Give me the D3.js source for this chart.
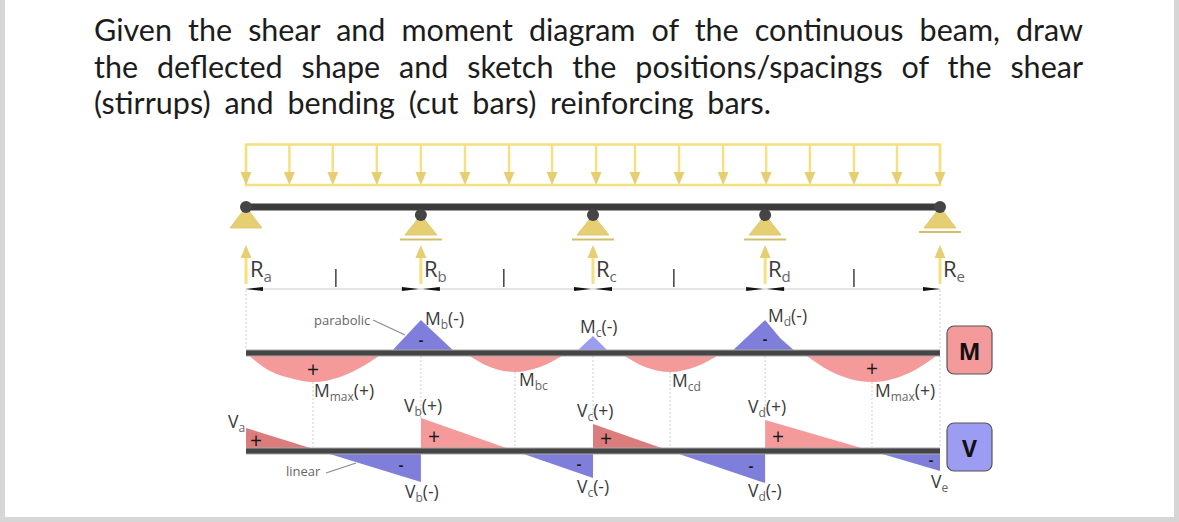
<!DOCTYPE html>
<html>
<head>
<meta charset="utf-8">
<script src="https://cdn.jsdelivr.net/npm/d3@7"></script>
<style>
    html, body { margin: 0; padding: 0; background: #d6d6d6; }
    svg { display: block; }
    text { font-family: "Open Sans", sans-serif; fill: #3a3a3a; }
</style>
</head>
<body>
<div class="chart"></div>
<script>
const titleLines = [
    "Given the shear and moment diagram of the continuous beam, draw",
    "the deflected shape and sketch the positions/spacings of the shear",
    "(stirrups) and bending (cut bars) reinforcing bars."
]

// beam stations
const supports = [0, 5.04, 10, 14.96, 20]
const supportNames = ["a", "b", "c", "d", "e"]
const midTicks = [2.59, 7.43, 12.33, 17.52]
const loadArrows = [0, 1.25, 2.5, 3.77, 5.04, 6.31, 7.58, 8.82, 10.09, 11.21, 12.48, 13.75, 14.99, 16.25, 17.52, 18.76, 20]

// bending moment, hogging lobes are positive here
const momentSag1 = [[0, 0], [0.69, -18], [1.27, -25], [1.93, -29], [2.71, -24], [3.43, -12], [3.95, 0]]
const momentHogB = [[4.15, 0], [4.58, 16], [5.04, 33], [5.5, 18], [6.05, 0]]
const momentSag2 = [[6.31, 0], [7.03, -14], [7.75, -19], [8.47, -14], [9.25, 0]]
const momentHogC = [[9.48, 0], [10, 17], [10.49, 0]]
const momentSag3 = [[10.78, 0], [11.5, -14], [12.22, -19], [12.94, -14], [13.72, 0]]
const momentHogD = [[13.95, 0], [14.47, 17], [14.96, 33], [15.39, 15], [15.88, 0]]
const momentSag4 = [[16.05, 0], [16.83, -18], [18.04, -29], [19.28, -17], [20, 0]]

// shear force, one start / zero / end row per span
const shearSpans = [
    [[0, 23], [2.13, 0], [5.04, -31]],
    [[5.04, 33], [7.75, 0], [10, -27]],
    [[10, 27], [12.22, 0], [14.96, -32]],
    [[14.96, 31], [18.04, 0], [20, -20]]
]

const width = 1179
const height = 522

const x = d3.scaleLinear().domain([0, 20]).range([246, 940])
const yM = d3.scaleLinear().domain([-29, 33]).range([382, 320])
const yV = d3.scaleLinear().domain([-32, 33]).range([483, 418])

const yellow = "#f4e07f"
const sand = "#e6cf72"
const dark = "#454545"
const pink = "#f59a9a"
const pinkDark = "#db7d7d"
const blue = "#7f7fdb"
const blueLight = "#9c9cf2"

const svg = d3.select(".chart").append("svg")
    .attr("width", width)
    .attr("height", height)

svg.append("rect")
    .attr("x", 5).attr("y", 0)
    .attr("width", 1169).attr("height", 517)
    .attr("fill", "#fff")

// title, the first two lines are justified
const title = svg.append("g")
titleLines.forEach((line, i) => {
    const t = title.append("text")
        .attr("x", 94)
        .attr("y", 41 + i * 36.5)
        .style("font-family", "Lato, sans-serif")
        .style("font-size", "30.5px")
        .style("fill", "#1c1c1c")
        .text(line)
    const target = i < 2 ? 989 : 677
    const gap = (target - t.node().getComputedTextLength()) / (line.split(" ").length - 1)
    t.style("word-spacing", gap + "px")
})

// uniform load
const load = svg.append("g")
load.append("path")
    .attr("d", `M${x(0)},185 V144.5 H${x(20)} V185 Z`)
    .attr("fill", "none")
    .attr("stroke", yellow)
    .attr("stroke-width", 2.4)
load.selectAll("line")
    .data(loadArrows)
    .enter().append("line")
    .attr("x1", d => x(d)).attr("x2", d => x(d))
    .attr("y1", 145).attr("y2", 174)
    .attr("stroke", yellow)
    .attr("stroke-width", 2.4)
load.selectAll("path.head")
    .data(loadArrows)
    .enter().append("path")
    .attr("class", "head")
    .attr("d", d => `M${x(d) - 5.5},172 H${x(d) + 5.5} L${x(d)},185 Z`)
    .attr("fill", sand)

// beam
svg.append("line")
    .attr("x1", x(0)).attr("x2", x(20))
    .attr("y1", 207).attr("y2", 207)
    .attr("stroke", "#3b3b3b")
    .attr("stroke-width", 7)

// supports
const supportGroup = svg.append("g").selectAll("g")
    .data(supports)
    .enter().append("g")
supportGroup.each(function(d, i) {
    const g = d3.select(this)
    const end = i === 0 || i === 4
    const cy = end ? 207 : 215
    const base = end ? 228 : 235
    const px = x(d)
    g.append("path")
        .attr("d", `M${px},${cy} L${px + 16},${base} H${px - 16} Z`)
        .attr("fill", sand)
        .attr("stroke", "#d8c26a")
        .attr("stroke-width", 0.8)
    if (i > 0) {
        const ly = end ? 232 : 239.5
        g.append("line")
            .attr("x1", px - 21).attr("x2", px + 21)
            .attr("y1", ly).attr("y2", ly)
            .attr("stroke", "#d3bd68")
            .attr("stroke-width", 2)
    }
    g.append("circle")
        .attr("cx", px).attr("cy", cy).attr("r", 6)
        .attr("fill", dark)

    // reaction arrow
    g.append("line")
        .attr("x1", px).attr("x2", px)
        .attr("y1", 252).attr("y2", 284)
        .attr("stroke", yellow)
        .attr("stroke-width", 3)
    g.append("path")
        .attr("d", `M${px},245 L${px + 5.5},258 H${px - 5.5} Z`)
        .attr("fill", sand)
})

// dimension line
svg.append("line")
    .attr("x1", x(0)).attr("x2", x(20))
    .attr("y1", 289).attr("y2", 289)
    .attr("stroke", "#dcdcdc")
    .attr("stroke-width", 1.5)
svg.append("g").selectAll("line")
    .data(midTicks)
    .enter().append("line")
    .attr("x1", d => x(d)).attr("x2", d => x(d))
    .attr("y1", 269).attr("y2", 287)
    .attr("stroke", "#333")
    .attr("stroke-width", 1.4)

function wedge(px, dir) {
    return `M${px},289 L${px + dir * 17},287 V291 Z`
}
supports.forEach((d, i) => {
    const px = x(d)
    if (i < 4) svg.append("path").attr("d", wedge(px + (i ? 2 : 0), 1)).attr("fill", "#111")
    if (i > 0) svg.append("path").attr("d", wedge(px - (i < 4 ? 2 : 0), -1)).attr("fill", "#111")
})

// dotted guides
const guides = [
    [0, 290, 350], [20, 290, 350], [20, 356, 447],
    [5.04, 356, 418], [10, 356, 424], [14.96, 356, 420],
    [1.93, 382, 447], [7.75, 372, 447], [12.22, 372, 447], [18.04, 382, 447]
]
svg.append("g").selectAll("line")
    .data(guides)
    .enter().append("line")
    .attr("x1", d => x(d[0])).attr("x2", d => x(d[0]))
    .attr("y1", d => d[1]).attr("y2", d => d[2])
    .attr("stroke", "#cfcfcf")
    .attr("stroke-dasharray", "2 2")

// moment diagram
const sagArea = d3.area()
    .x(d => x(d[0])).y0(yM(0)).y1(d => yM(d[1]))
    .curve(d3.curveMonotoneX)
const hogArea = d3.area()
    .x(d => x(d[0])).y0(yM(0)).y1(d => yM(d[1]))

const momentLobes = [
    [momentSag1, pink, sagArea], [momentHogB, blue, hogArea], [momentSag2, pink, sagArea],
    [momentHogC, blueLight, hogArea], [momentSag3, pink, sagArea], [momentHogD, blue, hogArea],
    [momentSag4, pink, sagArea]
]
svg.append("g").selectAll("path")
    .data(momentLobes)
    .enter().append("path")
    .attr("d", d => d[2](d[0]))
    .attr("fill", d => d[1])

// shear diagram
const shearArea = d3.area()
    .x(d => x(d[0])).y0(yV(0)).y1(d => yV(d[1]))
const shearGroup = svg.append("g")
shearSpans.forEach((span, i) => {
    shearGroup.append("path")
        .attr("d", shearArea(span.slice(0, 2)))
        .attr("fill", i % 2 === 0 ? pinkDark : pink)
    shearGroup.append("path")
        .attr("d", shearArea(span.slice(1)))
        .attr("fill", blue)
})

// diagram axes
const axisRows = [yM(0), yV(0)]
svg.append("g").selectAll("line.edge")
    .data(axisRows)
    .enter().append("line")
    .attr("class", "edge")
    .attr("x1", x(0)).attr("x2", x(20))
    .attr("y1", d => d).attr("y2", d => d)
    .attr("stroke", "#a8a8a8")
    .attr("stroke-width", 7)
svg.append("g").selectAll("line.core")
    .data(axisRows)
    .enter().append("line")
    .attr("class", "core")
    .attr("x1", x(0)).attr("x2", x(20))
    .attr("y1", d => d).attr("y2", d => d)
    .attr("stroke", dark)
    .attr("stroke-width", 5)

// leaders for the curve notes
const leaders = [[373, 320, 405, 335], [326, 473, 356, 463]]
svg.append("g").selectAll("line")
    .data(leaders)
    .enter().append("line")
    .attr("x1", d => d[0]).attr("y1", d => d[1])
    .attr("x2", d => d[2]).attr("y2", d => d[3])
    .attr("stroke", "#8a8a8a")
    .attr("stroke-width", 1.2)

function label(px, py, main, sub, rest, size, subSize) {
    const t = svg.append("text")
        .attr("x", px).attr("y", py)
        .style("font-size", size + "px")
    t.append("tspan").text(main)
    if (sub) {
        t.append("tspan")
            .attr("dy", size * 0.22)
            .style("font-size", subSize + "px")
            .style("fill", "#666")
            .text(sub)
    }
    if (rest) {
        t.append("tspan")
            .attr("dy", sub ? -size * 0.22 : 0)
            .text(rest)
    }
}

const reactionX = [250, 424, 596, 768, 943]
supportNames.forEach((n, i) => label(reactionX[i], 277, "R", n, "", 22, 15))

const momentLabels = [
    [425, 325, "M", "b", "(-)"], [580, 333, "M", "c", "(-)"], [768, 322, "M", "d", "(-)"],
    [314, 397, "M", "max", "(+)"], [875, 397, "M", "max", "(+)"],
    [519, 386, "M", "bc", ""], [672, 387, "M", "cd", ""]
]
const shearLabels = [
    [404, 412, "V", "b", "(+)"], [577, 417, "V", "c", "(+)"], [748, 413, "V", "d", "(+)"],
    [405, 498, "V", "b", "(-)"], [577, 493, "V", "c", "(-)"], [748, 497, "V", "d", "(-)"],
    [228, 428, "V", "a", ""], [931, 488, "V", "e", ""]
]
momentLabels.concat(shearLabels).forEach(d => label(d[0], d[1], d[2], d[3], d[4], 17.5, 12))

// curve notes
const notes = [[314, 325, "parabolic"], [286, 476, "linear"]]
svg.append("g").selectAll("text")
    .data(notes)
    .enter().append("text")
    .attr("x", d => d[0]).attr("y", d => d[1])
    .style("font-size", "13px")
    .style("fill", "#666")
    .text(d => d[2])

// signs inside the lobes
const plusSigns = [[313, 369], [872, 368], [256, 440], [434, 436], [606, 438], [778, 436]]
const minusSigns = [[421, 339], [765, 338], [401, 464], [579, 463], [751, 465], [931, 459]]
svg.append("g").selectAll("text")
    .data(plusSigns)
    .enter().append("text")
    .attr("x", d => d[0]).attr("y", d => d[1])
    .attr("text-anchor", "middle")
    .attr("dominant-baseline", "central")
    .style("font-size", "21px")
    .style("fill", "#1a1a1a")
    .text("+")
svg.append("g").selectAll("text")
    .data(minusSigns)
    .enter().append("text")
    .attr("x", d => d[0]).attr("y", d => d[1])
    .attr("text-anchor", "middle")
    .attr("dominant-baseline", "central")
    .style("font-size", "14px")
    .style("font-weight", "700")
    .style("fill", "#1a1a1a")
    .text("-")

// legend boxes
const legend = [["M", 326, pink], ["V", 423, blueLight]]
const legendBox = svg.append("g").selectAll("g")
    .data(legend)
    .enter().append("g")
legendBox.append("rect")
    .attr("x", 947).attr("y", d => d[1])
    .attr("width", 45).attr("height", 48)
    .attr("rx", 7)
    .attr("fill", d => d[2])
    .attr("stroke", "#555")
    .attr("stroke-width", 1.2)
legendBox.append("text")
    .attr("x", 969.5).attr("y", d => d[1] + 25)
    .attr("text-anchor", "middle")
    .attr("dominant-baseline", "central")
    .style("font-size", "23px")
    .style("font-weight", "700")
    .style("fill", "#111")
    .text(d => d[0])
</script>
</body>
</html>
